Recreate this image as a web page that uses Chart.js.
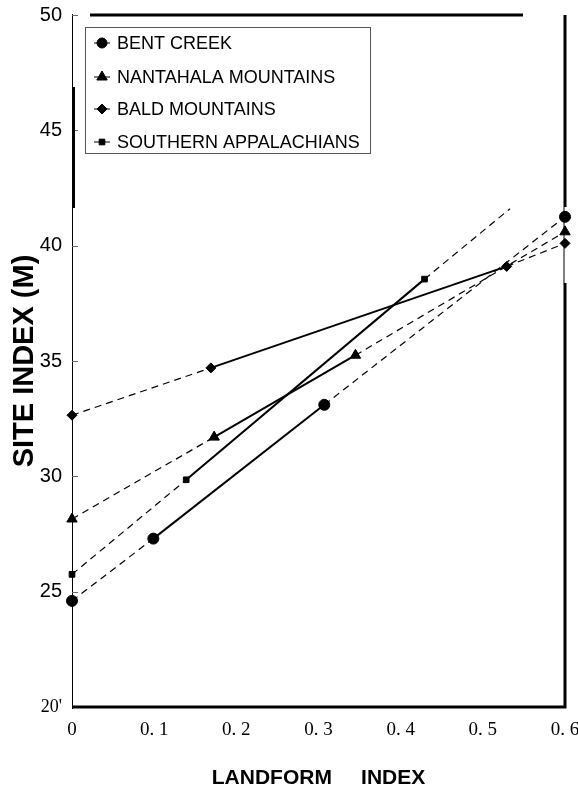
<!DOCTYPE html>
<html>
<head>
<meta charset="utf-8">
<script src="https://cdn.jsdelivr.net/npm/chart.js@4.4.1/dist/chart.umd.min.js"></script>
<style>
  html, body { margin: 0; padding: 0; background: #fff; }
  #wrap { width: 578px; height: 789px; }
</style>
</head>
<body>
<div id="wrap"><canvas id="siteChart"></canvas></div>
<script>
// series
const seriesNames = ["BENT CREEK", "NANTAHALA MOUNTAINS", "BALD MOUNTAINS", "SOUTHERN APPALACHIANS"];
const pointShapes = ["circle", "triangle", "rectRot", "rect"];

const bentCreekX = [0, 0.099, 0.307, 0.6];
const bentCreekY = [24.6, 27.3, 33.1, 41.25];
const nantahalaX = [0, 0.173, 0.345, 0.6];
const nantahalaY = [28.15, 31.7, 35.25, 40.6];
const baldX = [0, 0.169, 0.529, 0.6];
const baldY = [32.65, 34.7, 39.1, 40.1];
const appalachianX = [0, 0.139, 0.429, 0.533];
const appalachianY = [25.75, 29.85, 38.55, 41.6];

const xTickValues = [0, 0.1, 0.2, 0.3, 0.4, 0.5, 0.6];
const xTickLabels = ["0", "0. 1", "0. 2", "0. 3", "0. 4", "0. 5", "0. 6"];
const yTickValues = [20, 25, 30, 35, 40, 45, 50];
const yTickLabels = ["20'", "25", "30", "35", "40", "45", "50"];

function toPoints(xs, ys){
    return xs.map((x, i) => ({x: x, y: ys[i]}));
}

// middle segment is the fitted (solid) range, outer ones are dashed
const segmentStyle = {
    borderDash: ctx => ctx.p0DataIndex === 1 ? [] : [7, 5],
    borderWidth: ctx => ctx.p0DataIndex === 1 ? 2 : 1.2
};

function buildDataset(i, xs, ys, radius){
    return {
        label: seriesNames[i],
        data: toPoints(xs, ys),
        showLine: true,
        clip: false,
        borderColor: "#000",
        backgroundColor: "#000",
        pointBackgroundColor: "#000",
        pointBorderColor: "#000",
        pointBorderWidth: 1,
        pointStyle: pointShapes[i],
        pointRadius: radius,
        segment: segmentStyle
    };
}

const framePlugin = {
    id: "frame",
    beforeDatasetsDraw(chart){
        const ctx = chart.ctx;
        const a = chart.chartArea;
        const yScale = chart.scales.y;
        ctx.save();
        ctx.strokeStyle = "#000";
        ctx.lineCap = "butt";

        // thin left axis
        ctx.lineWidth = 1;
        ctx.beginPath();
        ctx.moveTo(a.left + 0.5, a.top - 1);
        ctx.lineTo(a.left + 0.5, a.bottom + 2);
        ctx.stroke();

        // short inner ticks
        ctx.strokeStyle = "#666";
        yTickValues.forEach(v => {
            if(v === 20) return;
            const py = Math.round(yScale.getPixelForValue(v)) + 0.5;
            ctx.beginPath();
            ctx.moveTo(a.left, py);
            ctx.lineTo(a.left + 6, py);
            ctx.stroke();
        });

        ctx.strokeStyle = "#000";
        ctx.lineWidth = 3;
        ctx.beginPath();
        ctx.moveTo(a.left + 1.5, 87);
        ctx.lineTo(a.left + 1.5, 208);
        // top border
        ctx.moveTo(90, a.top);
        ctx.lineTo(523, a.top);
        // right border, broken where the end markers sit
        ctx.moveTo(a.right, a.top);
        ctx.lineTo(a.right, 207);
        ctx.moveTo(a.right, 283);
        ctx.lineTo(a.right, a.bottom + 1.5);
        // bottom axis
        ctx.moveTo(a.left, a.bottom);
        ctx.lineTo(a.right + 1.5, a.bottom);
        ctx.stroke();

        ctx.lineWidth = 1;
        ctx.beginPath();
        ctx.moveTo(a.right - 1, 207);
        ctx.lineTo(a.right - 1, 283);
        ctx.stroke();
        ctx.restore();
    }
};

const legendPlugin = {
    id: "boxLegend",
    afterDraw(chart){
        const ctx = chart.ctx;
        const rowY = [43, 77, 109, 142];
        ctx.save();
        ctx.strokeStyle = "#555";
        ctx.lineWidth = 1;
        ctx.strokeRect(85.5, 27.5, 285, 126);
        ctx.fillStyle = "#000";
        ctx.strokeStyle = "#000";
        ctx.font = "18px 'Liberation Sans', Arial, sans-serif";
        ctx.textBaseline = "middle";
        seriesNames.forEach((name, i) => {
            const ds = chart.data.datasets[i];
            const y = rowY[i];
            ctx.lineWidth = 1;
            ctx.beginPath();
            ctx.moveTo(94, y);
            ctx.lineTo(110, y);
            ctx.stroke();
            Chart.helpers.drawPoint(ctx, {
                pointStyle: ds.pointStyle,
                radius: i === 1 ? 6 : (i === 3 ? 4 : 5),
                borderWidth: 1,
                rotation: 0
            }, 102, y);
            ctx.fillText(name, 117, y + 1);
        });
        ctx.restore();
    }
};

new Chart("siteChart", {
    type: "scatter",
    data: {
        datasets: [
            buildDataset(0, bentCreekX, bentCreekY, 5.5),
            buildDataset(1, nantahalaX, nantahalaY, 6),
            buildDataset(2, baldX, baldY, 5),
            buildDataset(3, appalachianX, appalachianY, [4, 4, 4, 0])
        ]
    },
    options: {
        responsive: true,
        maintainAspectRatio: false,
        animation: false,
        layout: {
            padding: {top: 15, right: 13, left: 0, bottom: 0}
        },
        plugins: {
            legend: {display: false},
            tooltip: {enabled: false}
        },
        scales: {
            x: {
                type: "linear",
                min: 0,
                max: 0.6,
                afterBuildTicks: scale => {
                    scale.ticks = xTickValues.map(v => ({value: v}));
                },
                afterFit: scale => {
                    scale.height = 82;
                    scale.paddingLeft = 0;
                    scale.paddingRight = 0;
                },
                grid: {display: false},
                border: {display: false},
                ticks: {
                    autoSkip: false,
                    maxRotation: 0,
                    color: "#000",
                    padding: 4,
                    font: {family: "'Liberation Serif', 'Times New Roman', serif", size: 19},
                    callback: (value, index) => xTickLabels[index]
                },
                title: {
                    display: true,
                    text: "LANDFORM     INDEX",
                    color: "#000",
                    font: {family: "'Liberation Sans', Arial, sans-serif", size: 21, weight: "bold", lineHeight: 1},
                    padding: {top: 0, bottom: 0}
                }
            },
            y: {
                type: "linear",
                min: 20,
                max: 50,
                afterBuildTicks: scale => {
                    scale.ticks = yTickValues.map(v => ({value: v}));
                },
                afterFit: scale => {
                    scale.width = 72;
                    scale.paddingTop = 0;
                    scale.paddingBottom = 0;
                },
                grid: {display: false},
                border: {display: false},
                ticks: {
                    color: "#000",
                    padding: 2,
                    font: ctx => ctx.tick && ctx.tick.value === 20
                        ? {family: "'Liberation Serif', 'Times New Roman', serif", size: 18}
                        : {family: "'Liberation Sans', Arial, sans-serif", size: 20},
                    callback: (value, index) => yTickLabels[index]
                },
                title: {
                    display: true,
                    text: "SITE INDEX (M)",
                    color: "#000",
                    font: {family: "'Liberation Sans', Arial, sans-serif", size: 29, weight: "bold", lineHeight: 1},
                    padding: {top: 10, bottom: 0}
                }
            }
        }
    },
    plugins: [framePlugin, legendPlugin]
});
</script>
</body>
</html>
